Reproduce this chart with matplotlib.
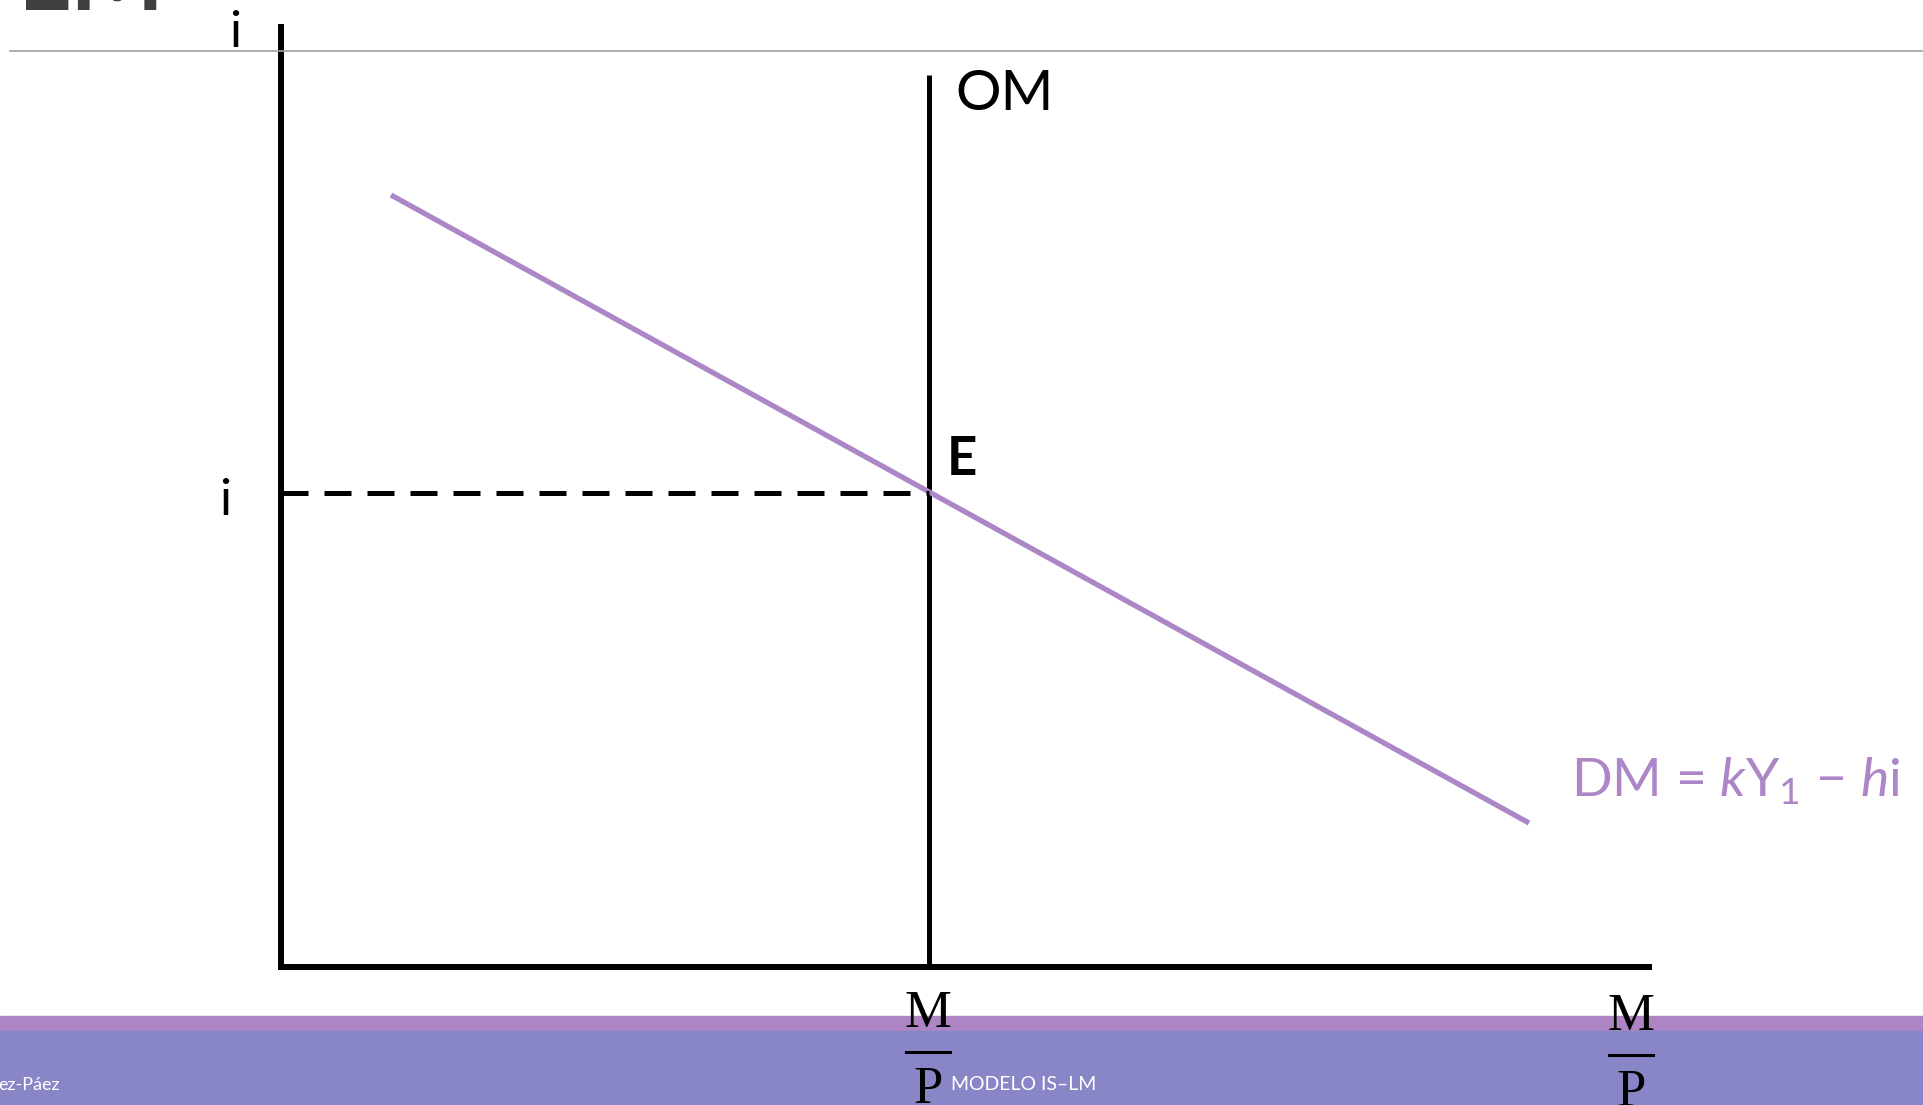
import matplotlib.pyplot as plt
from matplotlib.lines import Line2D
from matplotlib.patches import Rectangle

# money market (LM) diagram, units: 1 = 100 px
x_max, y_max = 13.68, 9.40
om_x = 6.48          # money supply M/P
om_top = 8.92
i_eq = 4.74          # equilibrium interest rate
dm_x = [1.10, 12.48] # money demand line
dm_y = [7.72, 1.44]

W, H = 1924, 1105
purple = "#ad86c8"

plt.rcParams["mathtext.fontset"] = "custom"
plt.rcParams["mathtext.rm"] = "Lato"
plt.rcParams["mathtext.it"] = "Lato:italic"

fig = plt.figure(figsize=(W / 100, H / 100), dpi=100)


def fx(px):
    return px / W


def fy(py):
    return 1 - py / H


# footer bands
fig.add_artist(Rectangle((0, fy(1031)), 1, (1031 - 1016) / H, transform=fig.transFigure,
                         color="#ad84c4", zorder=0))
fig.add_artist(Rectangle((0, 0), 1, fy(1031), transform=fig.transFigure,
                         color="#8886c6", zorder=0))
# title rule
fig.add_artist(Line2D([fx(10), 1], [fy(51), fy(51)], transform=fig.transFigure,
                      color="#a0a0a0", lw=1.2))
fig.text(fx(18), fy(10), "LM", fontsize=72, fontweight="bold", color="#404040",
         family="Lato", va="baseline", ha="left")

ax = fig.add_axes([fx(281), fy(967), 1368 / W, 940 / H])
ax.set_xlim(0, x_max)
ax.set_ylim(0, y_max)
ax.patch.set_alpha(0)
for s in ["top", "right"]:
    ax.spines[s].set_visible(False)
for s in ["left", "bottom"]:
    ax.spines[s].set_linewidth(4.3)
ax.set_xticks([])
ax.set_yticks([])

ax.plot([om_x, om_x], [0, om_top], color="black", lw=3.6, solid_capstyle="butt")
ax.plot(dm_x, dm_y, color=purple, lw=3.8, solid_capstyle="butt")
ax.plot([0, om_x], [i_eq, i_eq], color="black", lw=3.6, linestyle=(0, (5.4, 3.2)))

# labels
fig.text(fx(235), fy(47), "i", fontsize=36, family="Lato", ha="center", va="baseline")
fig.text(fx(225), fy(515), "i", fontsize=36, family="Lato", ha="center", va="baseline")
fig.text(fx(962), fy(475), "E", fontsize=38, family="Lato", fontweight="bold",
         ha="center", va="baseline")
fig.text(fx(955), fy(110), "OM", fontsize=41, family="Lato", ha="left", va="baseline")
fig.text(fx(1571), fy(797), r"DM = $\mathit{k}$Y$_1$ − $\mathit{h}$i", fontsize=38.5,
         family="Lato", color=purple, ha="left", va="baseline")

for cx, m_base, bar_y, p_base in [(928, 1027, 1052, 1103), (1631, 1030, 1055, 1106)]:
    fig.text(fx(cx), fy(m_base), "M", fontsize=38, family="Liberation Serif",
             ha="center", va="baseline")
    fig.add_artist(Line2D([fx(cx - 22), fx(cx + 22)], [fy(bar_y), fy(bar_y)],
                          transform=fig.transFigure, color="black", lw=2.2))
    fig.text(fx(cx), fy(p_base), "P", fontsize=38, family="Liberation Serif",
             ha="center", va="baseline")

fig.text(fx(-2), fy(1090), "ez-Páez", fontsize=13, family="Lato", color="white",
         ha="left", va="baseline")
fig.text(fx(951), fy(1090), "MODELO IS–LM", fontsize=14, family="Lato", color="white",
         ha="left", va="baseline")

fig.savefig("out.png", dpi=100)
